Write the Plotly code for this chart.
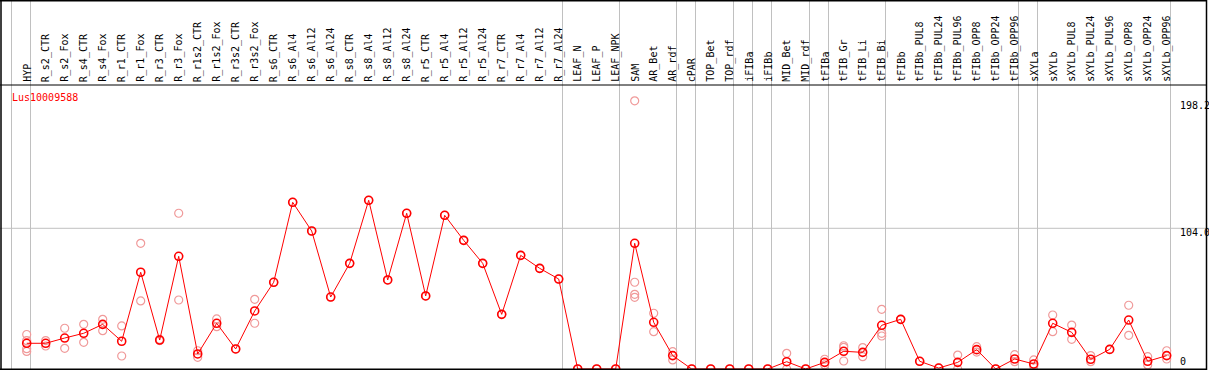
import plotly.graph_objects as go

categories = ["HYP", "R_s2_CTR", "R_s2_Fox", "R_s4_CTR", "R_s4_Fox", "R_r1_CTR", "R_r1_Fox",
              "R_r3_CTR", "R_r3_Fox", "R_r1s2_CTR", "R_r1s2_Fox", "R_r3s2_CTR", "R_r3s2_Fox",
              "R_s6_CTR", "R_s6_Al4", "R_s6_Al12", "R_s6_Al24", "R_s8_CTR", "R_s8_Al4", "R_s8_Al12",
              "R_s8_Al24", "R_r5_CTR", "R_r5_Al4", "R_r5_Al12", "R_r5_Al24", "R_r7_CTR", "R_r7_Al4",
              "R_r7_Al12", "R_r7_Al24", "LEAF_N", "LEAF_P", "LEAF_NPK", "SAM", "AR_Bet", "AR_rdf",
              "cPAR", "TOP_Bet", "TOP_rdf", "iFIBa", "iFIBb", "MID_Bet", "MID_rdf", "tFIBa",
              "tFIB_Gr", "tFIB_Li", "tFIB_Bi", "tFIBb", "tFIBb_PUL8", "tFIBb_PUL24", "tFIBb_PUL96",
              "tFIBb_OPP8", "tFIBb_OPP24", "tFIBb_OPP96", "sXYLa", "sXYLb", "sXYLb_PUL8",
              "sXYLb_PUL24", "sXYLb_PUL96", "sXYLb_OPP8", "sXYLb_OPP24", "sXYLb_OPP96"]

mean_values = [19.0, 19.0, 22.9, 26.4, 33.0, 20.5, 71.5, 21.4, 83.3, 11.1, 33.8, 14.8, 42.9,
               64.1, 123.2, 102.0, 53.2, 78.1, 124.7, 65.8, 115.1, 54.0, 113.6, 95.1, 78.1,
               40.4, 84.0, 74.4, 66.5, 0, 0, 0, 92.9, 34.5, 9.9, 0, 0, 0, 0, 0, 5.4, 0, 4.9,
               13.1, 12.3, 32.3, 36.7, 5.7, 0.7, 4.9, 14.3, 0, 7.4, 3.7, 33.8, 27.1, 7.2, 14.5,
               36.2, 5.7, 9.9]

replicate_values = [
    [25.5, 21.0, 15.0, 13.0], [21.0, 17.0], [30.1, 15.3], [33.0, 19.7], [36.7, 28.3],
    [31.8, 9.6], [92.9, 50.3], [22.0, 21.0], [115.1, 51.0], [13.5, 8.6], [37.0, 31.3],
    [14.8], [51.5, 33.8], [64.1], [123.2], [102.0], [53.2], [78.1], [124.7], [65.8],
    [115.1], [54.0], [113.6], [95.1], [78.1], [40.4], [84.0], [74.4], [66.5],
    [0], [0], [0], [198.2, 64.1, 55.2, 53.0], [41.2, 27.6], [12.8, 6.7],
    [0], [0], [0], [0], [0], [11.6, 0], [0], [7.2, 3.0],
    [17.2, 16.0, 5.9], [15.8, 9.1], [44.1, 26.4, 24.4], [36.7], [5.7], [0.7], [10.3, 0],
    [16.5, 12.5], [0], [10.6, 5.4], [6.7, 2.0], [39.9, 27.6], [32.5, 21.9],
    [9.9, 5.4], [14.5], [47.1, 24.9], [9.1, 3.0], [13.5, 7.4]]

group_sizes = [1, 28, 3, 3, 1, 2, 1, 1, 2, 1, 3, 7, 1, 7]
y_tick_values = [0, 104.0, 198.2]
gene_name = "Lus10009588"

W, H = 1209, 370
x0_px, step_px = 26.7, 19.0
y0_px, top_px, k = 369.0, 85.0, 1.353

idx = list(range(len(categories)))
rep_x, rep_y = [], []
for i, reps in enumerate(replicate_values):
    for r in reps:
        rep_x.append(i)
        rep_y.append(r)

fig = go.Figure()
fig.add_trace(go.Scatter(x=rep_x, y=rep_y, mode="markers",
                         marker=dict(symbol="circle-open", size=8, color="#f09a9a",
                                     line=dict(width=1.2)),
                         hoverinfo="skip", showlegend=False))
fig.add_trace(go.Scatter(x=idx, y=mean_values, mode="lines+markers",
                         line=dict(color="#ff0000", width=1),
                         marker=dict(symbol="circle-open", size=8, color="#ff0000",
                                     line=dict(width=1.6)),
                         showlegend=False))

font = "DejaVu Sans Mono"
shapes = []
ends = []
c = -1
for g in group_sizes:
    c += g
    ends.append(c)
sep_pos = [-0.8] + [e + 0.2 for e in ends]
for s in sep_pos:
    shapes.append(dict(type="line", xref="x", yref="paper", x0=s, x1=s, y0=0, y1=1,
                       line=dict(color="#c0c0c0", width=1), layer="below"))
shapes.append(dict(type="line", xref="paper", yref="y", x0=0, x1=1, y0=y_tick_values[1],
                   y1=y_tick_values[1], line=dict(color="#c0c0c0", width=1), layer="below"))

def px_line(xa, ya, xb, yb, w=1.5):
    shapes.append(dict(type="line", xref="paper", yref="paper",
                       x0=xa / W, x1=xb / W, y0=1 - ya / H, y1=1 - yb / H,
                       line=dict(color="black", width=w)))
px_line(0, 0.75, 1207, 0.75)
px_line(1, 0, 1, 370)
px_line(1206.5, 0, 1206.5, 370)
px_line(0, 369.25, 1207, 369.25)
px_line(0, 85, 1207, 85, 1)

annotations = []
for i, cat in enumerate(categories):
    annotations.append(dict(x=i, xref="x", y=1 - 84 / H, yref="paper", text=cat,
                            textangle=-90, showarrow=False, xanchor="center", yanchor="bottom",
                            font=dict(family=font, size=10, color="black")))
annotations.append(dict(x=10 / W, xref="paper", y=1 - 97.7 / H, yref="paper", text=gene_name,
                        showarrow=False, xanchor="left", yanchor="middle",
                        font=dict(family=font, size=10, color="#ff0000")))
for v in y_tick_values:
    annotations.append(dict(x=1178 / W, xref="paper", y=v, yref="y",
                            text=("%.1f" % v) if v else "0", showarrow=False, xanchor="left",
                            yanchor="bottom" if v == 0 else "top", yshift=3 if v else 0,
                            font=dict(family=font, size=10, color="black")))

fig.update_layout(
    width=W, height=H, margin=dict(l=0, r=0, t=0, b=0),
    paper_bgcolor="white", plot_bgcolor="white",
    xaxis=dict(range=[-x0_px / step_px, (W - x0_px) / step_px], visible=False, fixedrange=True),
    yaxis=dict(domain=[(H - y0_px) / H, (H - top_px) / H],
               range=[0, (y0_px - top_px) / k], visible=False, fixedrange=True),
    shapes=shapes, annotations=annotations,
)
fig.write_html("out.html", config={"displayModeBar": False},
               post_script="document.body.style.margin='0px';document.body.style.overflow='hidden';")
